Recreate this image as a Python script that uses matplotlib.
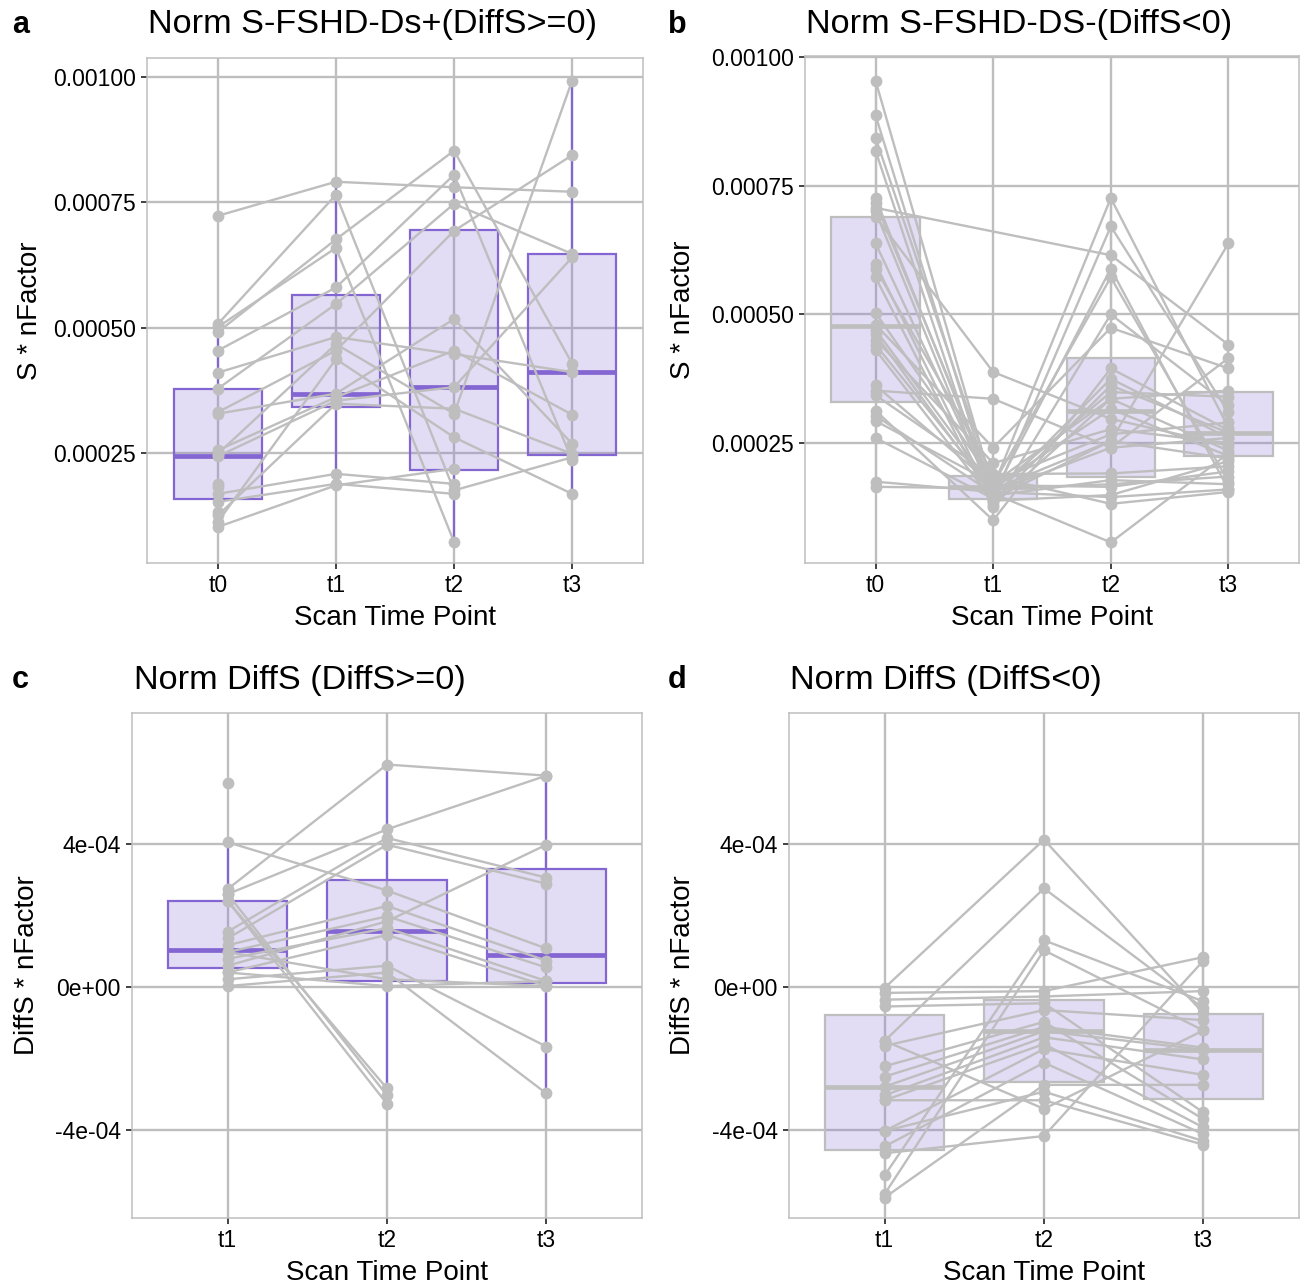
import numpy as np
import matplotlib
matplotlib.use('Agg')
import matplotlib.pyplot as plt

plt.rcParams['font.family'] = ['Liberation Sans', 'DejaVu Sans']

# Colours
GRAY = '#BEBEBE'
PURPLE = '#8466D2'
FILL = (0.54, 0.44, 0.84, 0.24)
nan = np.nan
SCALE = 1e-4   # all values below are in units of 1e-4

# ---------------- panel a: S * nFactor, DiffS >= 0 ----------------
a_labels = ['t0', 't1', 't2', 't3']
a_t0 = [7.23, 5.07, 5.01, 4.91, 4.54, 4.10, 3.78, 3.31, 3.28, 2.55,
        2.48, 2.43, 1.12, 1.25, 1.68, 1.52, 1.02, 1.82, 1.88, 1.32]
a_t1 = [7.91, 7.65, 6.59, 6.76, 5.80, 4.81, 5.47, 4.54, 3.68, 3.61,
        4.67, 3.54, 4.37, 3.48, 2.08, 1.88, 1.85, nan, nan, nan]
a_t2 = [7.80, 1.75, 0.72, 8.53, 8.05, 4.47, 7.47, 6.93, 5.17, 4.54,
        3.28, 3.81, 2.81, 3.38, 1.88, 1.68, 2.18, nan, nan, nan]
a_t3 = [7.71, 2.41, nan, 4.28, 2.35, 4.11, 6.47, 8.44, 2.68, 3.26,
        9.93, 6.40, 1.68, 2.48, nan, nan, nan, nan, nan, nan]
# box stats: whisker low, q1, median, q3, whisker high
a_lo = [1.02, 1.85, 0.72, 1.68]
a_q1 = [1.57, 3.42, 2.16, 2.45]
a_med = [2.43, 3.68, 3.81, 4.11]
a_q3 = [3.78, 5.64, 6.95, 6.47]
a_hi = [5.07, 7.91, 8.53, 9.93]

# ---------------- panel b: S * nFactor, DiffS < 0 ----------------
b_labels = ['t0', 't1', 't2', 't3']
b_t0 = [9.54, 8.87, 8.43, 8.18, 7.26, 7.07, 7.17, 7.00, 6.90, 6.38,
        5.98, 5.89, 5.72, 5.03, 4.80, 4.70, 4.61, 4.51, 4.41, 4.31,
        3.62, 3.52, 3.43, 3.13, 3.03, 2.93, 2.60, 1.75, 1.65]
b_t1 = [1.60, 1.45, 1.70, 1.30, 1.55, nan, 1.65, 1.40, 3.88, 1.50,
        1.35, 1.90, 1.25, 1.75, 2.41, 1.62, 1.48, 2.11, 1.58, 1.38,
        1.68, 3.36, 1.85, 1.00, 1.52, 1.72, 1.42, 1.55, 1.62]
b_t2 = [2.54, 3.75, 5.72, 3.36, 2.41, 6.15, 7.26, 6.71, 2.97, 5.89,
        3.62, 1.91, 5.00, 2.67, 4.74, 3.16, 1.78, 2.77, 3.49, 1.49,
        1.65, 2.41, 1.32, 3.95, 0.57, 3.36, 2.54, 1.45, 1.70]
b_t3 = [2.20, 2.60, 1.75, 2.35, 4.15, 4.41, 2.80, 3.10, 2.45, 1.60,
        2.70, 2.05, 3.23, 2.90, 3.95, 2.25, 1.70, 2.50, 3.40, 2.15,
        1.95, 2.60, 1.55, 2.75, 2.30, 3.52, 6.38, 1.60, 1.85]
b_lo = [1.65, 1.00, 0.57, 1.55]
b_q1 = [3.29, 1.42, 1.85, 2.24]
b_med = [4.77, 1.65, 3.13, 2.70]
b_q3 = [6.90, 1.86, 4.15, 3.49]
b_hi = [9.54, 2.41, 7.26, 4.41]

# ---------------- panel c: DiffS * nFactor, DiffS >= 0 ----------------
c_labels = ['t1', 't2', 't3']
c_t1 = [5.70, 4.05, 2.74, 2.60, 2.41, 2.60, 2.41, 1.55, 1.36, 1.17,
        0.98, 0.79, 0.60, 0.41, 0.22, 0.03, 0.98, 0.41]
c_t2 = [nan, 2.70, 6.22, 4.41, -2.83, -3.02, -3.26, 4.17, 3.98, 2.27,
        1.98, 1.65, 1.84, 1.46, 0.60, 0.41, 0.22, 0.03]
c_t3 = [nan, 1.08, 5.91, 5.91, nan, nan, nan, 3.06, 2.89, 0.74,
        0.55, 0.17, 3.98, 0.03, -1.66, -2.97, 0.03, 0.17]
c_lo = [0.03, -3.26, -2.97]
c_q1 = [0.53, 0.17, 0.12]
c_med = [1.03, 1.57, 0.90]
c_q3 = [2.41, 2.98, 3.30]
c_hi = [4.05, 6.22, 5.91]

# ---------------- panel d: DiffS * nFactor, DiffS < 0 ----------------
d_labels = ['t1', 't2', 't3']
d_t1 = [-0.02, -1.50, -5.26, -5.78, -0.16, -4.64, -0.35, -0.54, -1.64, -2.21,
        -2.50, -3.02, -3.16, -4.02, -4.45, -5.88, -4.02, -3.16, -1.50, -2.78]
d_t2 = [4.12, 2.76, 1.31, 1.03, -0.11, -4.16, -0.26, -0.45, -0.64, -0.97,
        -1.11, -1.40, -1.59, -1.73, -2.11, -2.73, -2.92, -3.16, -3.40, -1.23]
d_t3 = [-0.73, -0.59, -0.40, -1.21, 0.84, 0.74, -0.11, -3.50, -0.92, -3.69,
        -1.69, -2.02, -3.92, -2.45, -4.11, -2.73, -4.30, -4.40, -1.21, -1.75]
d_lo = [-5.88, -4.16, -4.40]
d_q1 = [-4.56, -2.64, -3.13]
d_med = [-2.78, -1.23, -1.75]
d_q3 = [-0.78, -0.35, -0.75]
d_hi = [-0.02, 2.76, 0.84]

W, H = 1306, 1288
fig = plt.figure(figsize=(W / 100, H / 100), dpi=100)


def axes_px(left, top, right, bottom):
    return fig.add_axes([left / W, 1 - bottom / H, (right - left) / W, (bottom - top) / H])


def draw_panel(ax, labels, series, lo, q1, med, q3, hi, edge, ylim, yticks, yticklabels):
    x = np.arange(1, len(labels) + 1)
    ax.set_xlim(0.4, len(labels) + 0.6)
    ax.set_ylim(ylim)
    ax.set_axisbelow(True)
    ax.grid(True, color=GRAY, lw=1.7)

    stats = [dict(whislo=l * SCALE, q1=a * SCALE, med=m * SCALE, q3=b * SCALE,
                  whishi=h * SCALE, fliers=[])
             for l, a, m, b, h in zip(lo, q1, med, q3, hi)]
    ax.bxp(stats, positions=x, widths=0.75, patch_artist=True, showcaps=False,
           showfliers=False,
           boxprops=dict(facecolor=FILL, edgecolor=edge, lw=1.6),
           medianprops=dict(color=edge, lw=3.4, solid_capstyle='butt'),
           whiskerprops=dict(color=edge, lw=1.6), zorder=2)

    data = np.array(series, dtype=float) * SCALE
    for j in range(data.shape[1]):
        y = data[:, j]
        ok = ~np.isnan(y)
        ax.plot(x[ok], y[ok], color=GRAY, lw=1.7, zorder=3)
    for i in range(data.shape[0]):
        y = data[i]
        y = y[~np.isnan(y)]
        ax.plot(np.full(len(y), x[i]), y, 'o', color=GRAY, ms=8.5, mew=0, zorder=4)

    ax.set_xticks(x)
    ax.set_xticklabels(labels)
    ax.set_yticks(np.array(yticks) * SCALE)
    ax.set_yticklabels(yticklabels)
    ax.tick_params(length=4, width=1.3, color='#333333', labelsize=16.5,
                   labelcolor='black', pad=4)
    for s in ax.spines.values():
        s.set_color(GRAY)
        s.set_linewidth(1.1)


S_TICKS = [2.5, 5.0, 7.5, 10.0]
S_LABELS = ['0.00025', '0.00050', '0.00075', '0.00100']
D_TICKS = [-4.0, 0.0, 4.0]
D_LABELS = ['-4e-04', '0e+00', '4e-04']

ax_a = axes_px(147, 58, 643, 563)
draw_panel(ax_a, a_labels, [a_t0, a_t1, a_t2, a_t3], a_lo, a_q1, a_med, a_q3, a_hi,
           PURPLE, (0.30e-4, 10.38e-4), S_TICKS, S_LABELS)

ax_b = axes_px(805, 56, 1299, 563)
draw_panel(ax_b, b_labels, [b_t0, b_t1, b_t2, b_t3], b_lo, b_q1, b_med, b_q3, b_hi,
           GRAY, (0.17e-4, 10.02e-4), S_TICKS, S_LABELS)

ax_c = axes_px(132, 713, 642, 1218)
draw_panel(ax_c, c_labels, [c_t1, c_t2, c_t3], c_lo, c_q1, c_med, c_q3, c_hi,
           PURPLE, (-6.45e-4, 7.66e-4), D_TICKS, D_LABELS)

ax_d = axes_px(789, 713, 1299, 1218)
draw_panel(ax_d, d_labels, [d_t1, d_t2, d_t3], d_lo, d_q1, d_med, d_q3, d_hi,
           GRAY, (-6.45e-4, 7.66e-4), D_TICKS, D_LABELS)

# axis titles
for ax, ylab, ylx in [(ax_a, 'S * nFactor', -0.236), (ax_b, 'S * nFactor', -0.247),
                      (ax_c, 'DiffS * nFactor', -0.206), (ax_d, 'DiffS * nFactor', -0.208)]:
    ax.set_ylabel(ylab, fontsize=20, va='center')
    ax.yaxis.set_label_coords(ylx, 0.5)
    ax.set_xlabel('Scan Time Point', fontsize=20, va='center')
    ax.xaxis.set_label_coords(0.5, -55 / 505)

# panel titles and letters
titles = [('a', 'Norm S-FSHD-Ds+(DiffS>=0)', 12, 148, 25),
          ('b', 'Norm S-FSHD-DS-(DiffS<0)', 668, 806, 25),
          ('c', 'Norm DiffS (DiffS>=0)', 12, 134, 680),
          ('d', 'Norm DiffS (DiffS<0)', 668, 790, 680)]
for letter, title, lx, tx, ty in titles:
    fig.text(lx / W, 1 - ty / H, letter, fontsize=22, fontweight='bold', va='center', ha='left')
    fig.text(tx / W, 1 - ty / H, title, fontsize=24.7, va='center', ha='left')

fig.savefig('out.png', dpi=100)
